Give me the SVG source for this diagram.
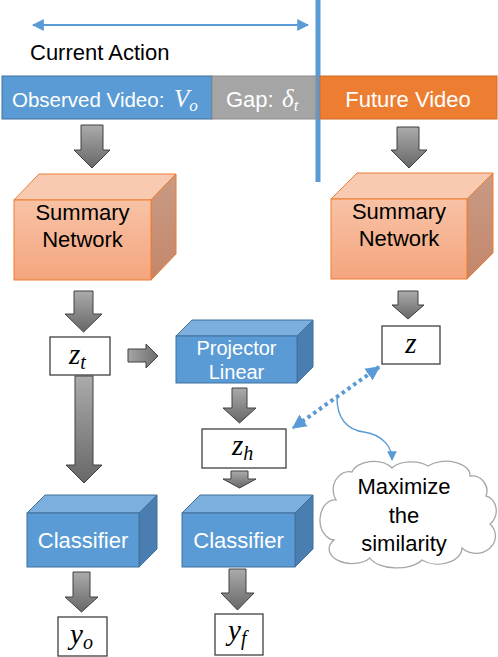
<svg xmlns="http://www.w3.org/2000/svg" width="498" height="657" viewBox="0 0 498 657">
<defs>
<linearGradient id="gArrow" x1="0" y1="0" x2="0" y2="1">
<stop offset="0" stop-color="#ABABAB"/><stop offset="1" stop-color="#676767"/>
</linearGradient>
<linearGradient id="gArrowH" x1="0" y1="0" x2="1" y2="0">
<stop offset="0" stop-color="#A5A5A5"/><stop offset="1" stop-color="#6E6E6E"/>
</linearGradient>
<linearGradient id="gOrFront" x1="0" y1="0" x2="0" y2="1">
<stop offset="0" stop-color="#F8C2A5"/><stop offset="1" stop-color="#F4A57E"/>
</linearGradient>
<linearGradient id="gOrSide" x1="0" y1="0" x2="0" y2="1">
<stop offset="0" stop-color="#C99A84"/><stop offset="1" stop-color="#C3876B"/>
</linearGradient>
<marker id="mArr" viewBox="0 0 10 10" refX="9" refY="5" markerWidth="6" markerHeight="6" orient="auto-start-reverse" markerUnits="strokeWidth">
<path d="M0,0 L10,5 L0,10 Z" fill="#5B9BD5"/>
</marker>
<marker id="mArrD" viewBox="0 0 10 10" refX="9" refY="5" markerWidth="3.6" markerHeight="3.6" orient="auto-start-reverse" markerUnits="strokeWidth">
<path d="M0,0 L10,5 L0,10 Z" fill="#5B9BD5"/>
</marker>
<marker id="mArrT" viewBox="0 0 10 10" refX="9" refY="5" markerWidth="7" markerHeight="7" orient="auto" markerUnits="strokeWidth">
<path d="M0,0 L10,5 L0,10 Z" fill="#5B9BD5"/>
</marker>
</defs>
<style>
.lbl{font-family:"Liberation Sans",Arial,sans-serif;font-size:22px}
.w{fill:#FFFFFF}
.k{fill:#000000}
.math{font-family:"Liberation Serif","Times New Roman",serif;font-style:italic}
.garrow{fill:url(#gArrow);stroke:#404040;stroke-width:1}
.garrowh{fill:url(#gArrowH);stroke:#404040;stroke-width:1}
.vbox{fill:#FFFFFF;stroke:#404040;stroke-width:1.3}
.bfront{fill:#5B9BD5;stroke:#41719C;stroke-width:1}
.btop{fill:#7CAFDD;stroke:#41719C;stroke-width:1}
.bside{fill:#4A7EB0;stroke:#41719C;stroke-width:1}
.ofront{fill:url(#gOrFront);stroke:#ED7D31;stroke-width:1}
.otop{fill:#F9CAB2;stroke:#ED7D31;stroke-width:1}
.oside{fill:url(#gOrSide);stroke:#ED7D31;stroke-width:1}
</style>

<g id="connectors">
<line x1="33" y1="25" x2="308" y2="25" stroke="#5B9BD5" stroke-width="2" marker-start="url(#mArr)" marker-end="url(#mArr)"/>
<rect x="315.5" y="0" width="5" height="182" fill="#5B9BD5"/>
<polygon class="garrow" points="81,125 103,125 103,150 110,150 92,168 74,150 81,150"/>
<polygon class="garrow" points="397,127 419,127 419,150 427,150 409,168 391,150 397,150"/>
<polygon class="garrow" points="74,291 93,291 93,314 102,314 83.5,332 65,314 74,314"/>
<polygon class="garrow" points="398,291 418,291 418,305 424,305 408,319 392,305 398,305"/>
<polygon class="garrowh" points="128,349 146,349 146,344 158,356 146,368 146,362 128,362"/>
<polygon class="garrow" points="75,376 93,376 93,465 102,465 84,483 66,465 75,465"/>
<polygon class="garrow" points="232,388 247,388 247,408 256,408 239.5,423 223,408 232,408"/>
<polygon class="garrow" points="231,471 248,471 248,479 256,479 239.5,488 223,479 231,479"/>
<polygon class="garrow" points="73,572 90,572 90,597 98,597 81.5,612 65,597 73,597"/>
<polygon class="garrow" points="229,569 246,569 246,593 254,593 237.5,610 221,593 229,593"/>
<line x1="379" y1="367" x2="293" y2="428" stroke="#5B9BD5" stroke-width="4" stroke-dasharray="3.5,3.5" marker-start="url(#mArrD)" marker-end="url(#mArrD)"/>
<path d="M337,398 C337,418 347,430 364,432 C384,435 392,448 392,460" fill="none" stroke="#5B9BD5" stroke-width="1.4" marker-end="url(#mArrT)"/>
</g>

<g id="current-action">
<text class="lbl k" x="30" y="60">Current Action</text>
</g>

<g id="observed-video">
<rect x="2" y="76" width="210" height="43" fill="#5B9BD5" stroke="#41719C" stroke-width="1"/>
<text class="lbl w" x="12" y="107" style="font-size:20.5px">Observed Video: <tspan class="math" font-size="25" x="174">V</tspan><tspan class="math" font-size="17" dy="4">o</tspan></text>
</g>

<g id="gap">
<rect x="212" y="76" width="104" height="43" fill="#A5A5A5" stroke="#8C8C8C" stroke-width="1"/>
<text class="lbl w" x="226" y="107">Gap: <tspan class="math" font-size="25" x="282">δ</tspan><tspan class="math" font-size="17" dy="4">t</tspan></text>
</g>

<g id="future-video">
<rect x="320" y="76" width="177" height="43" fill="#ED7D31" stroke="#D06A22" stroke-width="1"/>
<text class="lbl w" x="408" y="107" text-anchor="middle">Future Video</text>
</g>

<g id="summary-left">
<polygon class="otop" points="14,200 39,174 176,174 151,200"/>
<polygon class="oside" points="151,200 176,174 176,254 151,280"/>
<rect class="ofront" x="14" y="200" width="137" height="80"/>
<text class="lbl k" x="82.5" y="220" text-anchor="middle">Summary</text>
<text class="lbl k" x="82.5" y="247" text-anchor="middle">Network</text>
</g>

<g id="summary-right">
<polygon class="otop" points="331,199 357,173 493,173 467,199"/>
<polygon class="oside" points="467,199 493,173 493,253 467,279"/>
<rect class="ofront" x="331" y="199" width="136" height="80"/>
<text class="lbl k" x="399" y="219" text-anchor="middle">Summary</text>
<text class="lbl k" x="399" y="246" text-anchor="middle">Network</text>
</g>

<g id="zt">
<rect class="vbox" x="50" y="337" width="60" height="38"/>
<text class="math k" x="69" y="364" font-size="29">z<tspan font-size="20" dy="5">t</tspan></text>
</g>

<g id="projector">
<polygon class="btop" points="176,336 192,320 313,320 297,336"/>
<polygon class="bside" points="297,336 313,320 313,367 297,383"/>
<rect class="bfront" x="176" y="336" width="121" height="47"/>
<text class="lbl w" x="236.5" y="355" text-anchor="middle" style="font-size:20px">Projector</text>
<text class="lbl w" x="236.5" y="379" text-anchor="middle" style="font-size:20px">Linear</text>
</g>

<g id="z">
<rect class="vbox" x="382" y="326" width="58" height="38"/>
<text class="math k" x="411" y="353" font-size="29" text-anchor="middle">z</text>
</g>

<g id="zh">
<rect class="vbox" x="202" y="429" width="84" height="39"/>
<text class="math k" x="232" y="455" font-size="29">z<tspan font-size="20" dy="5">h</tspan></text>
</g>

<g id="classifier-left">
<polygon class="btop" points="27,513 45,495 157,495 139,513"/>
<polygon class="bside" points="139,513 157,495 157,549 139,567"/>
<rect class="bfront" x="27" y="513" width="112" height="54"/>
<text class="lbl w" x="83" y="548" text-anchor="middle">Classifier</text>
</g>

<g id="classifier-right">
<polygon class="btop" points="182,513 200,495 313,495 295,513"/>
<polygon class="bside" points="295,513 313,495 313,549 295,567"/>
<rect class="bfront" x="182" y="513" width="113" height="54"/>
<text class="lbl w" x="238.5" y="548" text-anchor="middle">Classifier</text>
</g>

<g id="yo">
<rect class="vbox" x="58" y="617" width="49" height="39"/>
<text class="math k" x="70" y="644" font-size="29">y<tspan font-size="20" dy="5">o</tspan></text>
</g>

<g id="yf">
<rect class="vbox" x="215" y="614" width="48" height="41"/>
<text class="math k" x="228" y="640" font-size="29">y<tspan font-size="20" dy="5">f</tspan></text>
</g>

<g id="cloud">
<path d="M336,500 A16,18 0 0 1 352,472 A22,14 0 0 1 392,468 A22,12 0 0 1 428,466 A24,14 0 0 1 470,476 A15,15 0 0 1 486,496 A12,15 0 0 1 490,524 A18,16 0 0 1 462,548 A24,16 0 0 1 422,560 A28,14 0 0 1 370,558 A22,14 0 0 1 334,540 A12,16 0 0 1 336,500 Z" fill="#FFFFFF" stroke="#A6A6A6" stroke-width="1.3"/>
<text class="lbl k" x="404" y="494" text-anchor="middle">Maximize</text>
<text class="lbl k" x="404" y="523" text-anchor="middle">the</text>
<text class="lbl k" x="404" y="551" text-anchor="middle">similarity</text>
</g>
</svg>
